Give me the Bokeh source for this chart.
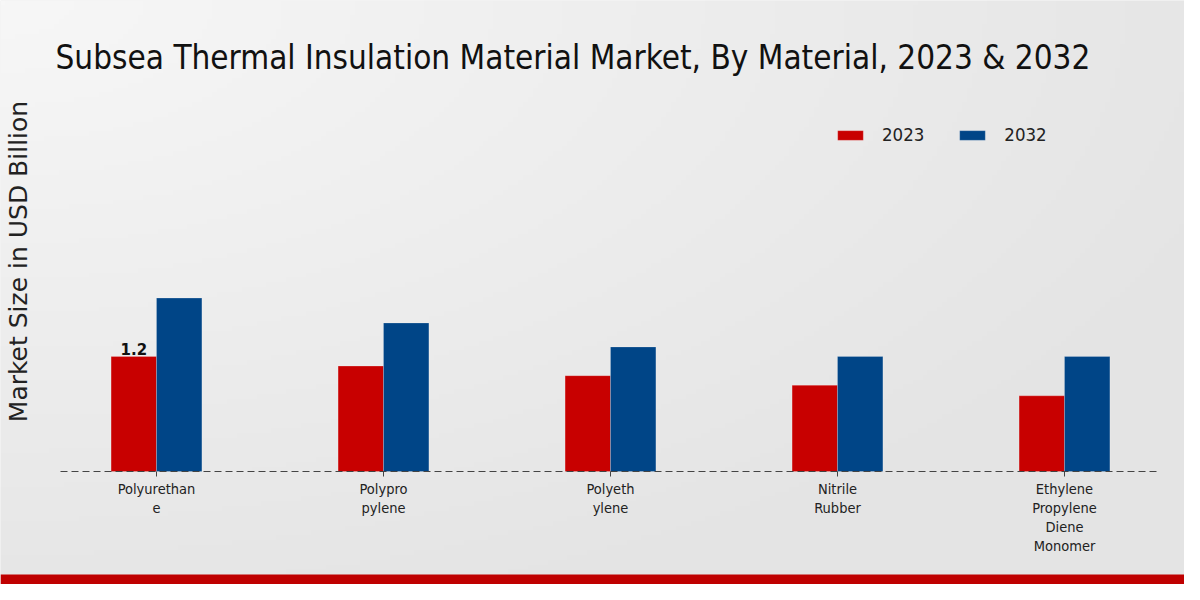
import math
import numpy as np
from bokeh.plotting import figure
from bokeh.models import (ColumnDataSource, Range1d, FixedTicker, Legend, LegendItem,
                          Label, BoxAnnotation, LinearAxis)
from bokeh.transform import dodge
from bokeh.embed import file_html
from bokeh.resources import INLINE
from bokeh.core.properties import value

categories = ["Polyurethane", "Polypropylene", "Polyethylene", "Nitrile Rubber",
              "Ethylene Propylene Diene Monomer"]
tick_labels = ["Polyurethan\ne", "Polypro\npylene", "Polyeth\nylene", "Nitrile\nRubber",
               "Ethylene\nPropylene\nDiene\nMonomer"]
years = ["2023", "2032"]
values_2023 = [1.20, 1.10, 1.00, 0.90, 0.79]
values_2032 = [1.81, 1.55, 1.30, 1.20, 1.20]
value_labels_2023 = ["1.2", "", "", "", ""]

title_text = "Subsea Thermal Insulation Material Market, By Material, 2023 & 2032"
y_title = "Market Size in USD Billion"

RED = "#c80000"
BLUE = "#004587"
BG = "#e9e9e9"
COND = "DejaVu Sans Condensed"

idx = list(range(len(categories)))
src = ColumnDataSource(dict(x=idx, v2023=values_2023, v2032=values_2032,
                            lbl=value_labels_2023))

W, H = 1184, 584
X0, X1 = -0.6872, 4.5286
Y0, Y1 = -1.1795, 4.9165
p = figure(width=W, height=H, output_backend="svg", toolbar_location=None,
           x_range=Range1d(X0, X1), y_range=Range1d(Y0, Y1),
           x_axis_type=None, y_axis_type=None, min_border=0)
p.background_fill_color = BG
p.border_fill_color = BG
p.outline_line_color = None
p.grid.visible = False

# soft background gradient (decoration only)
gw, gh = 240, 120
gx = np.linspace(0, 1, gw)[None, :]
gy = np.linspace(1, 0, gh)[:, None]  # row 0 = bottom
shade = 247 - 19 * np.clip(np.sqrt((gx ** 2 + gy ** 2) / 2) * 1.25, 0, 1)
img = np.zeros((gh, gw), dtype=np.uint32)
view = img.view(dtype=np.uint8).reshape((gh, gw, 4))
s = shade.astype(np.uint8)
view[:, :, 0] = s
view[:, :, 1] = s
view[:, :, 2] = s
view[:, :, 3] = 255
p.image_rgba(image=[img], x=X0, y=Y0, dw=X1 - X0, dh=Y1 - Y0)

r1 = p.vbar(x=dodge("x", -0.1), top="v2023", width=0.2, source=src,
            fill_color=RED, line_color="#ffffff", line_alpha=0.2)
r2 = p.vbar(x=dodge("x", 0.1), top="v2032", width=0.2, source=src,
            fill_color=BLUE, line_color="#ffffff", line_alpha=0.2)

p.text(x=dodge("x", -0.1), y="v2023", text="lbl", source=src,
       text_align="center", text_baseline="bottom", y_offset=-2,
       text_font=value("DejaVu Sans"), text_font_style="bold",
       text_font_size="15px", text_color="#111111")

xa = LinearAxis(fixed_location=0, bounds=(-0.423, 4.423))
xa.ticker = FixedTicker(ticks=idx)
xa.major_label_overrides = {i: t for i, t in zip(idx, tick_labels)}
xa.axis_line_color = "#444444"
xa.axis_line_dash = "7 4"
xa.axis_line_width = 1
xa.major_tick_in = 0
xa.major_tick_out = 5
xa.major_tick_line_color = "#444444"
xa.minor_tick_line_color = None
xa.major_label_text_font = COND
xa.major_label_text_font_size = "14.5px"
xa.major_label_text_color = "#222222"
xa.major_label_standoff = 4
p.add_layout(xa, "below")

legend = Legend(items=[LegendItem(label=years[0], renderers=[r1]),
                       LegendItem(label=years[1], renderers=[r2])],
                orientation="horizontal", location=(834, 439),
                glyph_width=32, glyph_height=12, label_standoff=16, spacing=32,
                padding=0, margin=0, border_line_color=None,
                background_fill_alpha=0,
                label_text_font=COND, label_text_font_size="18.5px",
                label_text_color="#222222")
p.add_layout(legend, "center")

p.add_layout(Label(x=55, y=57, x_units="canvas", y_units="canvas", text=title_text,
                   text_font=COND, text_font_size="33px", text_color="#111111",
                   text_baseline="middle", text_align="left"))
p.add_layout(Label(x=18, y=261, x_units="canvas", y_units="canvas", text=y_title,
                   angle=math.pi / 2, text_font="DejaVu Sans", text_font_size="25px",
                   text_color="#222222", text_baseline="middle", text_align="center"))

p.add_layout(BoxAnnotation(left=0, right=W, top=574, bottom=H, left_units="canvas",
                           right_units="canvas", top_units="canvas",
                           bottom_units="canvas", fill_color="#bf0000", fill_alpha=1,
                           line_color=None))

open("out.html", "w").write(file_html(p, INLINE))
